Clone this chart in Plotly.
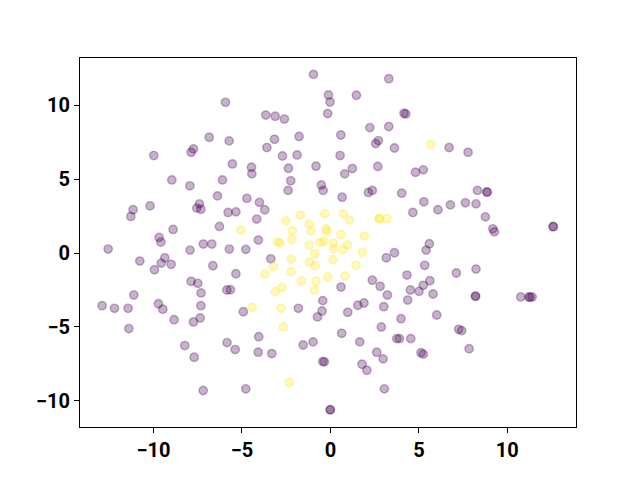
import plotly.graph_objects as go

# Class 0 (purple) points
x0 = [-5.93, -6.85, -5.72, -7.74, -7.87, -9.98, -5.54, -4.46, -4.44, -8.96,
      -7.94, -6.10, -6.38, -4.72, -7.40, -7.55, -7.32, -10.19, -11.15, -11.28,
      -5.78, -5.34, -6.27, -8.89, -9.68, -9.58, -7.18, -6.70, -12.56, -5.71,
      -4.78, -7.93, -0.96, 3.30, -0.11, -0.02, 1.47, -3.65, -3.12, -2.60,
      -0.15, 4.16, 4.26, 2.23, 3.30, -3.16, -1.77, 0.59, 2.71, 2.56,
      3.62, -3.59, -2.71, -1.88, 0.55, -2.37, -0.81, 1.24, 0.81, 2.68,
      4.81, -2.24, -2.39, -0.51, -0.41, 2.15, 2.37, 0.66, 4.03, -4.01,
      -3.71, -4.16, 4.66, -4.07, 6.71, 7.78, 5.25, 8.31, 8.84, 8.86,
      5.28, 6.08, 6.78, 7.63, 8.23, 8.76, 9.18, 9.27, 12.58, 12.60,
      5.59, 5.41, -10.77, -9.36, -9.56, -9.00, -9.94, -6.64, -5.34, -7.87,
      -7.49, -7.31, -5.85, -5.65, -11.11, -12.90, -12.20, -11.43, -9.72, -9.47,
      -7.32, -4.92, -8.83, -7.74, -7.36, -11.39, -8.23, -5.84, -5.38, -7.70,
      -7.19, -4.78, -3.37, 3.16, 3.62, 4.33, 2.37, 2.81, 3.22, 4.52,
      4.37, 0.60, -0.43, -0.47, -0.73, -1.81, 0.98, 1.55, 1.90, 3.02,
      3.99, 2.88, -4.05, 0.64, 3.75, 3.90, 4.54, -1.54, -0.98, 1.66,
      -4.08, -3.31, 2.62, 2.98, -0.43, -0.34, 1.79, 2.06, 3.05, -0.02,
      0.00, 5.33, 7.12, 8.23, 5.01, 5.25, 5.62, 5.80, 8.19, 8.21,
      10.76, 11.21, 11.28, 11.40, 6.01, 7.25, 7.42, 7.84, 5.12, 5.25]
y0 = [10.20, 7.84, 7.59, 7.05, 6.82, 6.60, 6.03, 5.81, 5.36, 4.95,
      4.55, 4.95, 3.87, 3.70, 3.33, 3.04, 2.97, 3.20, 2.93, 2.48,
      2.75, 2.79, 1.80, 1.60, 1.06, 0.74, 0.61, 0.61, 0.27, 0.27,
      0.25, 0.20, 12.09, 11.80, 10.70, 10.22, 10.68, 9.34, 9.26, 9.07,
      9.44, 9.46, 9.41, 8.49, 8.56, 7.70, 7.89, 7.99, 7.61, 7.41,
      7.11, 7.14, 6.57, 6.64, 6.60, 5.74, 5.88, 5.72, 5.36, 5.86,
      5.47, 4.89, 4.24, 4.61, 4.24, 4.10, 4.24, 3.78, 4.05, 3.43,
      2.93, 2.30, 2.75, 0.88, 7.14, 6.82, 5.63, 4.24, 4.14, 4.12,
      3.47, 2.93, 3.26, 3.40, 3.33, 2.45, 1.64, 1.44, 1.80, 1.78,
      0.63, 0.20, -0.54, -0.32, -0.68, -0.76, -1.13, -0.86, -1.40, -1.91,
      -2.05, -2.70, -2.50, -2.48, -2.84, -3.56, -3.74, -3.74, -3.43, -3.80,
      -3.56, -3.97, -4.51, -4.66, -4.39, -5.11, -6.26, -6.06, -6.53, -7.05,
      -9.30, -9.19, -0.39, -0.32, 0.02, -1.49, -1.84, -2.25, -2.84, -2.50,
      -3.18, -2.30, -3.22, -3.92, -4.32, -3.74, -4.01, -3.53, -3.38, -3.63,
      -4.44, -5.00, -5.66, -5.43, -5.79, -5.79, -5.79, -6.22, -6.01, -6.01,
      -6.71, -6.80, -6.71, -7.16, -7.34, -7.36, -7.52, -7.93, -9.19, -10.61,
      -10.60, -0.83, -1.35, -1.08, -2.59, -2.18, -1.87, -2.77, -2.91, -2.93,
      -2.97, -2.97, -2.99, -2.97, -4.19, -5.16, -5.25, -6.47, -6.74, -6.84]

# Class 1 (yellow) points
x1 = [-5.06, -1.69, -0.32, 0.73, 1.07, -2.50, -1.20, -1.09, -2.15, -0.24,
      -0.19, 2.75, 3.20, 0.60, 1.92, -2.99, -2.86, -2.18, -1.19, -0.58,
      -0.36, 0.17, 0.96, 5.67, 0.17, 0.70, 1.81, -0.88, -2.22, -1.19,
      -0.86, 0.14, -3.22, 1.45, -2.22, -3.69, -0.15, 0.83, -1.64, -0.81,
      -2.73, -3.11, -0.90, -4.42, -2.79, -2.66, -2.32, 2.78]
y1 = [1.55, 2.57, 2.66, 2.66, 2.23, 2.18, 1.96, 1.49, 1.49, 1.64,
      1.47, 2.34, 2.32, 1.24, 1.15, 0.76, 0.66, 0.90, 0.54, 0.72,
      0.81, 0.66, 0.56, 7.36, 0.27, 0.22, 0.05, -0.05, -0.41, -0.61,
      -0.86, -0.45, -0.93, -0.83, -1.26, -1.44, -1.62, -1.55, -1.89, -1.91,
      -2.32, -2.61, -2.50, -3.67, -3.74, -5.00, -8.76, 2.33]

x_ticks = [-10, -5, 0, 5, 10]
y_ticks = [-10, -5, 0, 5, 10]

purple = "rgba(68,1,84,0.3)"
yellow = "rgba(253,231,37,0.3)"

fig = go.Figure()
fig.add_trace(go.Scatter(x=x0, y=y0, mode="markers",
                         marker=dict(size=8.4, color=purple,
                                     line=dict(color=purple, width=1.4)),
                         showlegend=False))
fig.add_trace(go.Scatter(x=x1, y=y1, mode="markers",
                         marker=dict(size=8.4, color=yellow,
                                     line=dict(color=yellow, width=1.4)),
                         showlegend=False))

axis_common = dict(showline=True, linecolor="black", linewidth=1, mirror=True,
                   ticks="outside", ticklen=5, tickwidth=1, tickcolor="black",
                   showgrid=False, zeroline=False, automargin=False,
                   tickfont=dict(family="Roboto", size=20, color="black", weight="bold"))

# The page body adds an 8px offset, so the figure is 8px smaller and margins compensate.
fig.update_layout(
    width=632, height=472,
    margin=dict(l=72, r=64, t=50, b=53, autoexpand=False),
    paper_bgcolor="white", plot_bgcolor="white",
    xaxis=dict(range=[-14.15, 13.88], tickvals=x_ticks, **axis_common),
    yaxis=dict(range=[-11.77, 13.2], tickvals=y_ticks, **axis_common),
)

fig.write_html("out.html")
